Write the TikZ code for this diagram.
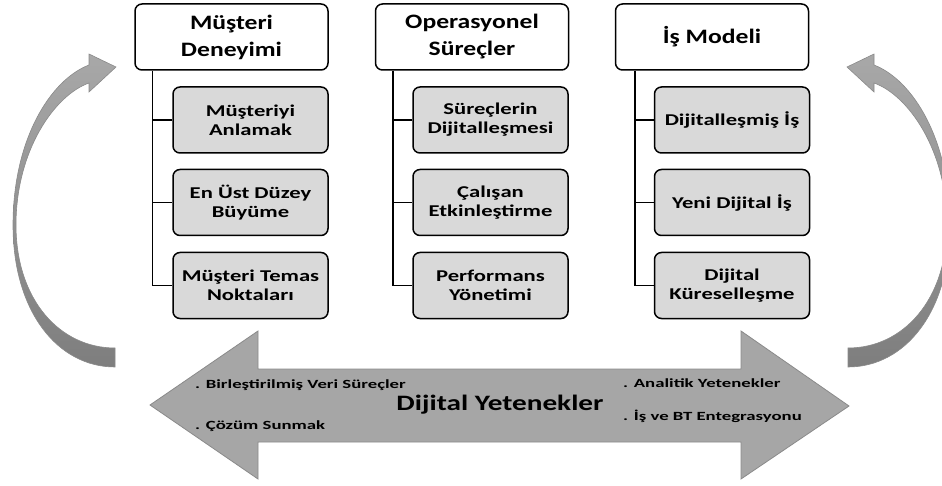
\documentclass[tikz,border=0pt]{standalone}
\usepackage{fontspec}
\setmainfont{Carlito}[FakeStretch=1.25]
\newfontfamily\subfont{Carlito}[FakeStretch=1.37]
\newfontfamily\bulfont{Carlito}[FakeStretch=1.5]
\newfontfamily\bigfont{Carlito}[FakeStretch=1.33]
\begin{document}
\begin{tikzpicture}[x=1pt,y=-1pt,
  hdr/.style={draw=black,line width=1.5pt,rounded corners=7pt,fill=white,minimum width=193pt,minimum height=66pt,align=center,inner sep=0pt,font=\fontsize{20.5}{27}\selectfont\bfseries},
  sub/.style={draw=black,line width=1.5pt,rounded corners=7pt,fill=subgray,minimum width=155pt,minimum height=66pt,align=center,inner sep=0pt,font=\subfont\fontsize{16.5}{19}\selectfont\bfseries},
  conn/.style={draw=black,line width=1.5pt},
  bul/.style={anchor=west,inner sep=0pt,font=\bulfont\fontsize{12.5}{15}\selectfont\bfseries},
  carrow/.style={draw=arrowedge,line width=0.6pt,top color=cgtop,bottom color=cgbot}
]
\definecolor{subgray}{HTML}{D9D9D9}
\definecolor{biggray}{HTML}{A6A6A6}
\definecolor{arrowedge}{HTML}{8A8A8A}
\definecolor{cgtop}{HTML}{A8A8A8}
\definecolor{cgbot}{HTML}{7E7E7E}
\useasboundingbox (0,0) rectangle (942,486);

% curved arrows
\newcommand\mycurvedarrow{%
  \path[carrow] (115,367) .. controls (58,367) and (13,312) .. (13,225)
    .. controls (13,140) and (50,80) .. (89,65)
    -- (89,54) -- (116,67) -- (89,92) -- (89,83)
    .. controls (55,95) and (16,150) .. (16,225)
    .. controls (16,300) and (60,348) .. (115,348) -- cycle;}
\mycurvedarrow
\begin{scope}[shift={(963,0)},xscale=-1]
\mycurvedarrow
\end{scope}

% big double arrow
\path[fill=biggray,draw=arrowedge,line width=0.8pt]
  (150,405) -- (258,331) -- (258,369) -- (741,369) -- (741,331) -- (849,406)
  -- (741,479) -- (741,442) -- (258,442) -- (258,479) -- cycle;

% headers
\node[hdr] (h1) at (231.5,37) {Müşteri\\Deneyimi};
\node[hdr] (h2) at (472,37) {Operasyonel\\Süreçler};
\node[hdr] (h3) at (712,37) {İş Modeli};

% sub boxes
\node[sub] (s11) at (250.5,120) {Müşteriyi\\Anlamak};
\node[sub] (s12) at (250.5,202.5) {En Üst Düzey\\Büyüme};
\node[sub] (s13) at (250.5,285.5) {Müşteri Temas\\Noktaları};
\node[sub] (s21) at (490.5,120) {Süreçlerin\\Dijitalleşmesi};
\node[sub] (s22) at (490.5,202.5) {Çalışan\\Etkinleştirme};
\node[sub] (s23) at (490.5,285.5) {Performans\\Yönetimi};
\node[sub] (s31) at (732,120) {Dijitalleşmiş İş};
\node[sub] (s32) at (732,202.5) {Yeni Dijital İş};
\node[sub] (s33) at (732,285.5) {Dijital\\Küreselleşme};

% connectors
\coordinate (sp1) at ([xshift=18pt]h1.south west);
\coordinate (sp2) at ([xshift=18pt]h2.south west);
\coordinate (sp3) at ([xshift=20pt]h3.south west);
\foreach \c in {1,2,3}{
  \draw[conn] (sp\c) |- (s\c3.west);
  \draw[conn] (sp\c |- s\c1.west) -- (s\c1.west);
  \draw[conn] (sp\c |- s\c2.west) -- (s\c2.west);
}

% texts on big arrow
\node[bul] (b1) at (195,385) {. Birleştirilmiş Veri Süreçler};
\node[bul] (b2) at (195,426) {. Çözüm Sunmak};
\node[bul] (b3) at (623,383) {. Analitik Yetenekler};
\node[bul] (b4) at (623,416) {. İş ve BT Entegrasyonu};
\node[inner sep=0pt,font=\bigfont\fontsize{22}{26}\selectfont\bfseries] (dy) at (500,405) {Dijital Yetenekler};
\end{tikzpicture}
\end{document}
